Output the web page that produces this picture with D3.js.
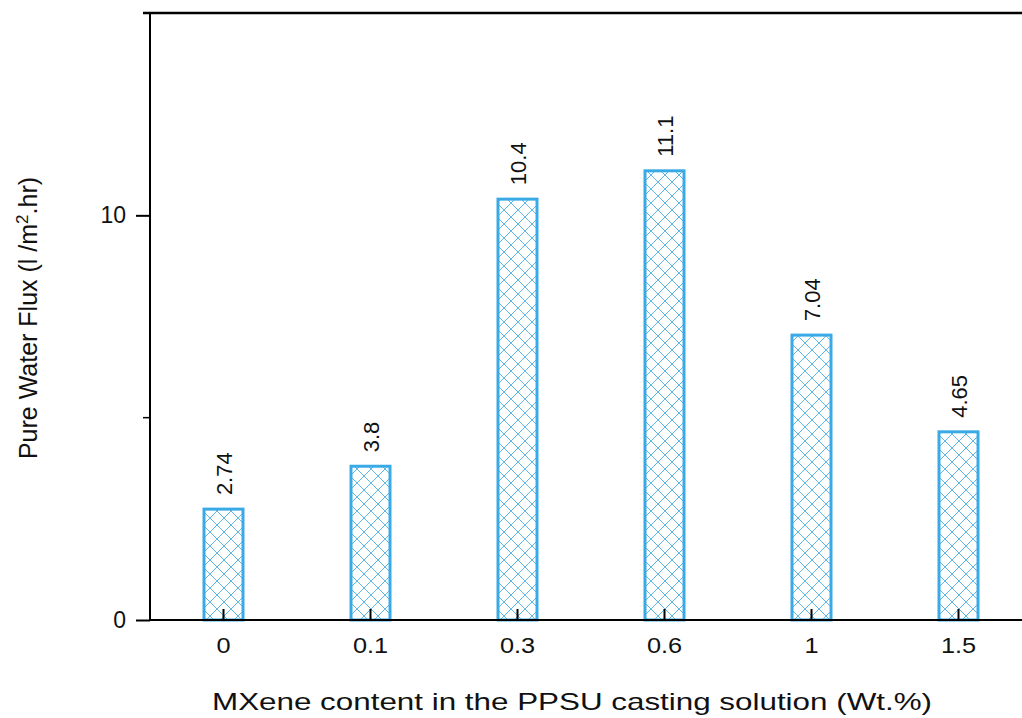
<!DOCTYPE html>
<html><head><meta charset="utf-8">
<script src="https://cdn.jsdelivr.net/npm/d3@7"></script>
<style>body{margin:0;background:#fff}svg{display:block;font-family:"Liberation Sans",Arial,sans-serif}</style>
</head><body>
<svg id="c" width="1022" height="718"></svg>
<script>
const categories = ["0","0.1","0.3","0.6","1","1.5"];
const values = [2.74, 3.8, 10.4, 11.1, 7.04, 4.65];
const valueLabels = ["2.74","3.8","10.4","11.1","7.04","4.65"];
const yTicks = [0, 10];
const yMinorTicks = [5];

(function(){
const svg = d3.select("#c");
const mLeft = 150, mTop = 13, mBottom = 620, mRight = 1032;
const x = d3.scaleBand().domain(categories).range([mLeft, mRight]).paddingInner(0.728).paddingOuter(0.364);
const y = d3.scaleLinear().domain([0, 15]).range([mBottom, mTop]);
const FF = "Liberation Sans, Arial, sans-serif";

const defs = svg.append("defs");
const P = 14;
const pat = defs.append("pattern").attr("id","hatch").attr("patternUnits","userSpaceOnUse")
  .attr("width",P).attr("height",P);
pat.append("path").attr("d",`M0,0L${P},${P}M${-P},0L0,${P}M0,${-P}L${P},0M${P},0L${2*P},${P}M0,${P}L${P},0M${-P},${P}L0,0M${P},${P}L${2*P},0M0,${2*P}L${P},${P}M${P},${2*P}L${2*P},${P}`)
  .attr("stroke","#5db8e6").attr("stroke-width",1).attr("fill","none");

const bw = 39;
svg.append("g").selectAll("rect").data(values).join("rect")
  .attr("x",(d,i)=>x(categories[i]) + x.bandwidth()/2 - bw/2)
  .attr("y",d=>y(d))
  .attr("width",bw)
  .attr("height",d=>mBottom - y(d))
  .attr("fill","url(#hatch)")
  .attr("stroke","#3aaae6").attr("stroke-width",3);

svg.append("g").selectAll("text").data(values).join("text")
  .attr("transform",(d,i)=>`translate(${x(categories[i]) + x.bandwidth()/2 + 8},${y(d) - 14}) rotate(-90)`)
  .attr("font-size",22).attr("fill","#111")
  .text((d,i)=>valueLabels[i]);

const xAxis = svg.append("g").attr("transform",`translate(0,${mBottom})`)
  .call(d3.axisBottom(x).tickSize(-11).tickPadding(17));
xAxis.select(".domain").attr("stroke","#000").attr("stroke-width",2).attr("d",`M${mLeft},0H${mRight}`);
xAxis.selectAll(".tick line").attr("stroke","#000").attr("stroke-width",2);
xAxis.selectAll(".tick text").attr("font-size",22).attr("fill","#111").attr("font-family",FF)
  .attr("transform","scale(1.15,1)");

const yAxis = svg.append("g").attr("transform",`translate(${mLeft},0)`)
  .call(d3.axisLeft(y).tickValues(yTicks).tickSize(14).tickPadding(10).tickFormat(d3.format("d")));
yAxis.select(".domain").attr("stroke","#000").attr("stroke-width",2).attr("d",`M0,${mBottom}V${mTop}`);
yAxis.selectAll(".tick line").attr("stroke","#000").attr("stroke-width",2);
yAxis.selectAll(".tick text").attr("font-size",23).attr("fill","#111").attr("font-family",FF);

svg.append("g").selectAll("line").data(yMinorTicks).join("line")
  .attr("x1",mLeft-7).attr("x2",mLeft).attr("y1",d=>y(d)).attr("y2",d=>y(d))
  .attr("stroke","#000").attr("stroke-width",1.5);

svg.append("line").attr("x1",mLeft-7).attr("x2",1022).attr("y1",mTop).attr("y2",mTop)
  .attr("stroke","#000").attr("stroke-width",2.5);

svg.append("text").attr("x",572).attr("y",710).attr("text-anchor","middle")
  .attr("font-size",24).attr("fill","#111")
  .attr("textLength",720).attr("lengthAdjust","spacingAndGlyphs")
  .text("MXene content in the PPSU casting solution (Wt.%)");

const yl = svg.append("text").attr("transform","translate(37,318) rotate(-90)")
  .attr("text-anchor","middle").attr("font-size",25).attr("fill","#111");
yl.append("tspan").text("Pure Water Flux (l /m");
yl.append("tspan").attr("dy",-9).attr("font-size",17).text("2");
yl.append("tspan").attr("dy",9).text(".hr)");
})();
</script>
</body></html>
